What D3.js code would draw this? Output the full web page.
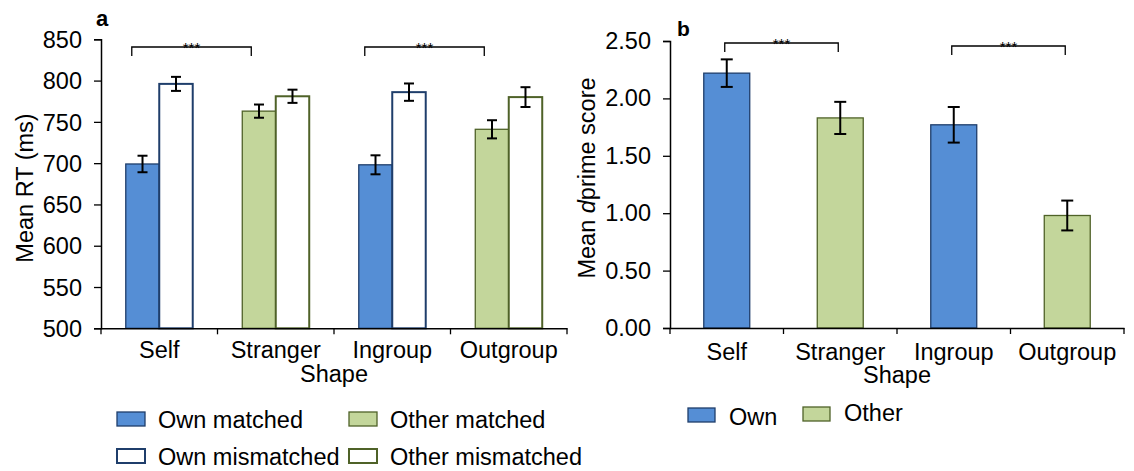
<!DOCTYPE html>
<html><head><meta charset="utf-8">
<script src="https://cdn.jsdelivr.net/npm/d3@7"></script>
<style>
body{margin:0;background:#fff;}
svg{display:block;font-family:"Liberation Sans",Arial,Helvetica,sans-serif;}
</style></head>
<body><svg id="c" width="1134" height="471"></svg>
<script>
// ---- data ----
const shapes = ["Self","Stranger","Ingroup","Outgroup"];
const rtSeries = ["matched","mismatched"];
const rtMatched = [699, 763, 698, 741];
const rtMatchedErr = [10, 8, 11.5, 11];
const rtMismatched = [796, 781, 786, 780];
const rtMismatchedErr = [8.5, 8, 10.5, 12];
const rtTicks = [500,550,600,650,700,750,800,850];
const dprime = [2.22, 1.83, 1.77, 0.98];
const dprimeErr = [0.12, 0.14, 0.155, 0.13];
const dTicks = [0,0.5,1,1.5,2,2.5];
const owner = ["own","other","own","other"];
const legendA = ["Own matched","Other matched","Own mismatched","Other mismatched"];
const legendB = ["Own","Other"];
const sigA = [["Self","Stranger"],["Ingroup","Outgroup"]];
const sigB = [["Self","Stranger"],["Ingroup","Outgroup"]];

const FS = 23.5;
const BLUE="#558ed5", BLUE_S="#1f3e6b", GREEN="#c3d69b", GREEN_S="#4f6228";
const fillOf = o => o==="own"?BLUE:GREEN;
const strokeOf = o => o==="own"?BLUE_S:GREEN_S;

const svg = d3.select("#c");

function styleAxis(g){
  g.attr("font-size",FS).attr("font-family","Liberation Sans, Arial, sans-serif");
  g.selectAll("path.domain").attr("stroke","#000").attr("stroke-width",1.5);
  g.selectAll(".tick line").attr("stroke","#000").attr("stroke-width",1.3);
  g.selectAll(".tick text").attr("fill","#000").attr("font-size",FS);
}

// ================= Panel a =================
{
  const x0 = 101, x1 = 567, yTop = 39.3, yBot = 328.3;
  const x = d3.scaleBand().domain(shapes).range([x0,x1]).padding(0);
  const xs = d3.scaleBand().domain(rtSeries).range([0,x.bandwidth()]).paddingInner(0).paddingOuter(0.74);
  const y = d3.scaleLinear().domain([500,850]).range([yBot,yTop]);

  const g = svg.append("g");
  const rows = [];
  shapes.forEach((s,i)=>{
    rows.push({s, ser:"matched", v:rtMatched[i], e:rtMatchedErr[i], o:owner[i]});
    rows.push({s, ser:"mismatched", v:rtMismatched[i], e:rtMismatchedErr[i], o:owner[i]});
  });
  g.selectAll("rect.bar").data(rows).join("rect")
    .attr("x",d=>x(d.s)+xs(d.ser)).attr("width",xs.bandwidth())
    .attr("y",d=>y(d.v)).attr("height",d=>y(500)-y(d.v))
    .attr("fill",d=>d.ser==="matched"?fillOf(d.o):"#fff")
    .attr("stroke",d=>strokeOf(d.o)).attr("stroke-width",d=>d.ser==="matched"?1.3:2);
  const eb = g.selectAll("g.eb").data(rows).join("g");
  eb.each(function(d){
    const cx = x(d.s)+xs(d.ser)+xs.bandwidth()/2;
    const sel = d3.select(this);
    sel.append("line").attr("x1",cx).attr("x2",cx).attr("y1",y(d.v+d.e)).attr("y2",y(d.v-d.e));
    sel.append("line").attr("x1",cx-5).attr("x2",cx+5).attr("y1",y(d.v+d.e)).attr("y2",y(d.v+d.e));
    sel.append("line").attr("x1",cx-5).attr("x2",cx+5).attr("y1",y(d.v-d.e)).attr("y2",y(d.v-d.e));
  });
  eb.selectAll("line").attr("stroke","#000").attr("stroke-width",2);

  const ya = g.append("g").attr("transform",`translate(${x0},0)`)
    .call(d3.axisLeft(y).tickValues(rtTicks).tickSize(7).tickPadding(12));
  styleAxis(ya);
  ya.selectAll(".tick text").attr("dy","0.35em");
  const xa = g.append("g").attr("transform",`translate(0,${yBot})`)
    .call(d3.axisBottom(x).tickSize(0).tickPadding(24));
  styleAxis(xa);
  xa.selectAll(".tick line").remove();
  xa.selectAll(".tick text").attr("dy","0").attr("y",30);
  const bounds = shapes.map(s=>x(s)).concat([x1]);
  g.selectAll("line.bt").data(bounds).join("line")
    .attr("x1",d=>d).attr("x2",d=>d).attr("y1",yBot).attr("y2",yBot+6)
    .attr("stroke","#000").attr("stroke-width",1.3);

  g.append("text").attr("x",(x0+x1)/2).attr("y",382).attr("text-anchor","middle")
    .attr("font-size",FS).text("Shape");
  g.append("text").attr("transform",`translate(33,188) rotate(-90)`).attr("text-anchor","middle")
    .attr("font-size",FS).text("Mean RT (ms)");
  g.append("text").attr("x",96).attr("y",25.5).attr("font-size",22).attr("font-weight","bold").text("a");

  sigA.forEach(([a,b])=>{
    const xa_ = x(a)+xs("matched")+6, xb_ = x(b)+xs("matched")+9;
    g.append("path").attr("d",`M${xa_},${56}V${47}H${xb_}V${56}`)
      .attr("fill","none").attr("stroke","#000").attr("stroke-width",1.3);
    g.append("text").attr("x",(xa_+xb_)/2).attr("y",52.5).attr("text-anchor","middle")
      .attr("font-size",15).text("***");
  });

  const lx = [117,349], ly = [412,449];
  legendA.forEach((t,i)=>{
    const col = i%2, row = Math.floor(i/2);
    const o = col===0?"own":"other";
    g.append("rect").attr("x",lx[col]).attr("y",ly[row]).attr("width",28).attr("height",14)
      .attr("fill",row===0?fillOf(o):"#fff").attr("stroke",strokeOf(o)).attr("stroke-width",row===0?1.3:2);
    g.append("text").attr("x",lx[col]+41).attr("y",ly[row]+16).attr("font-size",FS).text(t);
  });
}

// ================= Panel b =================
{
  const x0 = 670, x1 = 1124, yTop = 41, yBot = 328;
  const x = d3.scaleBand().domain(shapes).range([x0,x1]).paddingInner(0.595).paddingOuter(0.2975);
  const xc = d3.scaleBand().domain(shapes).range([x0,x1]).padding(0);
  const y = d3.scaleLinear().domain([0,2.5]).range([yBot,yTop]);
  const g = svg.append("g");
  const rows = shapes.map((s,i)=>({s,v:dprime[i],e:dprimeErr[i],o:owner[i]}));
  g.selectAll("rect.bar").data(rows).join("rect")
    .attr("x",d=>x(d.s)).attr("width",x.bandwidth())
    .attr("y",d=>y(d.v)).attr("height",d=>y(0)-y(d.v))
    .attr("fill",d=>fillOf(d.o)).attr("stroke",d=>strokeOf(d.o)).attr("stroke-width",1.3);
  const eb = g.selectAll("g.eb").data(rows).join("g");
  eb.each(function(d){
    const cx = x(d.s)+x.bandwidth()/2;
    const sel = d3.select(this);
    sel.append("line").attr("x1",cx).attr("x2",cx).attr("y1",y(d.v+d.e)).attr("y2",y(d.v-d.e));
    sel.append("line").attr("x1",cx-6).attr("x2",cx+6).attr("y1",y(d.v+d.e)).attr("y2",y(d.v+d.e));
    sel.append("line").attr("x1",cx-6).attr("x2",cx+6).attr("y1",y(d.v-d.e)).attr("y2",y(d.v-d.e));
  });
  eb.selectAll("line").attr("stroke","#000").attr("stroke-width",2);

  const ya = g.append("g").attr("transform",`translate(${x0},0)`)
    .call(d3.axisLeft(y).tickValues(dTicks).tickFormat(d3.format(".2f")).tickSize(7).tickPadding(12));
  styleAxis(ya);
  const xa = g.append("g").attr("transform",`translate(0,${yBot})`)
    .call(d3.axisBottom(xc).tickSize(0).tickPadding(24));
  styleAxis(xa);
  xa.selectAll(".tick line").remove();
  xa.selectAll(".tick text").attr("dy","0").attr("y",32);
  const bounds = shapes.map(s=>xc(s)).concat([x1]);
  g.selectAll("line.bt").data(bounds).join("line")
    .attr("x1",d=>d).attr("x2",d=>d).attr("y1",yBot).attr("y2",yBot+6)
    .attr("stroke","#000").attr("stroke-width",1.3);

  g.append("text").attr("x",(x0+x1)/2).attr("y",383).attr("text-anchor","middle")
    .attr("font-size",FS).text("Shape");
  const yl = g.append("text").attr("transform",`translate(595,178) rotate(-90)`).attr("text-anchor","middle")
    .attr("font-size",FS);
  yl.append("tspan").text("Mean ");
  yl.append("tspan").attr("font-style","italic").text("d");
  yl.append("tspan").text("prime score");
  g.append("text").attr("x",677).attr("y",35.5).attr("font-size",21).attr("font-weight","bold").text("b");

  sigB.forEach(([a,b],k)=>{
    const xa_ = x(a)+x.bandwidth()/2 - 2, xb_ = x(b)+x.bandwidth()/2 - 2;
    const yy = k===0?43:46;
    g.append("path").attr("d",`M${xa_},${yy+9}V${yy}H${xb_}V${yy+9}`)
      .attr("fill","none").attr("stroke","#000").attr("stroke-width",1.3);
    g.append("text").attr("x",(xa_+xb_)/2).attr("y",yy+5.5).attr("text-anchor","middle")
      .attr("font-size",15).text("***");
  });

  const lx = [688,803];
  legendB.forEach((t,i)=>{
    const o = i===0?"own":"other";
    const yy = i===0?408:407;
    g.append("rect").attr("x",lx[i]).attr("y",yy).attr("width",27).attr("height",14)
      .attr("fill",fillOf(o)).attr("stroke",strokeOf(o)).attr("stroke-width",1.3);
    g.append("text").attr("x",lx[i]+41).attr("y",i===0?425:421).attr("font-size",FS).text(t);
  });
}
</script></body></html>
